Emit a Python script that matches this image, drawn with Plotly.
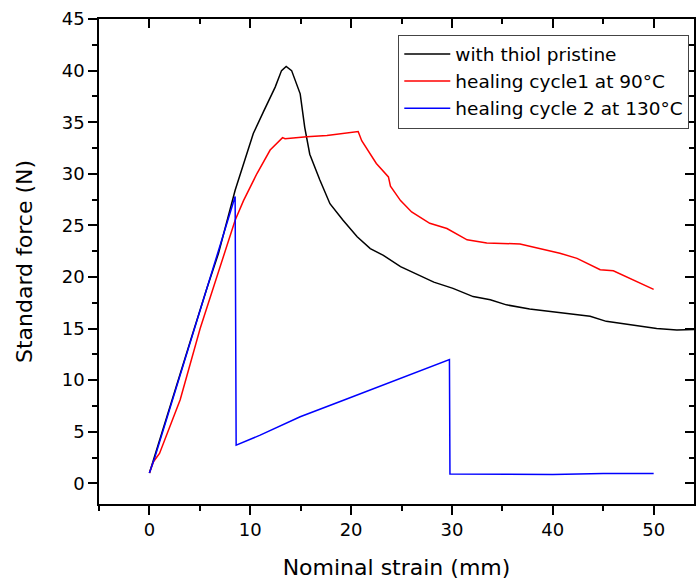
import plotly.graph_objects as go

# Tensile test curves: nominal strain (mm) vs standard force (N)
pristine_x = [0, 0.5, 2, 4, 5.7, 6.85, 8.5, 9.66, 10.3, 11.3, 12.47, 13.1, 13.56, 14.1,
              14.95, 15.4, 15.9, 16.9, 17.9, 19.2, 20.6, 21.9, 23.2, 24.9, 26.5, 28.2,
              30.1, 32.1, 33.8, 35.4, 37.7, 40.4, 43.7, 45.3, 48.3, 50.3, 52.3, 54.0]
pristine_y = [1.0, 2.6, 7.3, 13.6, 18.9, 22.3, 28.4, 31.9, 33.9, 36.0, 38.4, 40.0, 40.4, 40.0,
              37.75, 34.5, 31.9, 29.4, 27.1, 25.5, 23.9, 22.75, 22.1, 21.0, 20.3, 19.5,
              18.9, 18.1, 17.8, 17.3, 16.9, 16.6, 16.2, 15.7, 15.3, 15.0, 14.85, 14.9]

cycle1_x = [0, 0.4, 1.0, 3.05, 5.03, 6.2, 8.5, 9.33, 10.65, 11.97, 12.6, 13.2, 13.45, 15.6,
            17.6, 19.9, 20.7, 21.05, 22.5, 23.7, 23.9, 24.9, 26.0, 27.8, 29.5, 31.5, 33.45,
            36.75, 39.05, 40.7, 42.4, 44.7, 46.0, 47.65, 50.0]
cycle1_y = [1.0, 2.1, 2.9, 8.1, 15.0, 18.6, 25.5, 27.4, 30.0, 32.3, 32.9, 33.5, 33.4, 33.6,
            33.7, 34.0, 34.1, 33.2, 31.0, 29.7, 28.8, 27.4, 26.3, 25.2, 24.7, 23.6, 23.3,
            23.2, 22.65, 22.3, 21.8, 20.7, 20.6, 19.85, 18.8]

cycle2_x = [0, 0.5, 8.5, 8.6, 10.98, 14.95, 19.24, 22.9, 26.5, 29.75, 29.8, 35, 40, 45, 50]
cycle2_y = [1.0, 2.4, 27.8, 3.7, 4.67, 6.45, 8.06, 9.42, 10.8, 12.0, 0.9, 0.85, 0.85, 0.95, 0.95]

series = [
    ("with thiol pristine", pristine_x, pristine_y, "#000000"),
    ("healing cycle1 at 90°C", cycle1_x, cycle1_y, "#ff0000"),
    ("healing cycle 2 at 130°C", cycle2_x, cycle2_y, "#0000ff"),
]

x_range = [-5, 54]
y_range = [-2, 45]
font_family = "DejaVu Sans"

fig = go.Figure()
for name, xs, ys, color in series:
    fig.add_trace(go.Scatter(x=xs, y=ys, mode="lines", name=name,
                             line=dict(color=color, width=1.5)))

# invisible trace to carry the mirrored top/right axes
fig.add_trace(go.Scatter(x=[None], y=[None], xaxis="x2", yaxis="y2",
                         showlegend=False, hoverinfo="skip"))

common = dict(showgrid=False, zeroline=False, showline=True, linecolor="black",
              linewidth=1.5, tickcolor="black", tickwidth=1.5)

fig.update_layout(
    width=696, height=580,
    margin=dict(l=99, r=2, t=19, b=76),
    paper_bgcolor="white", plot_bgcolor="white",
    font=dict(family=font_family, color="black"),
    xaxis=dict(range=x_range, tick0=0, dtick=10, ticks="outside", ticklen=9,
               tickfont=dict(size=18),
               minor=dict(dtick=5, tick0=0, ticks="outside", ticklen=5,
                          tickcolor="black", tickwidth=1.5),
               title=dict(text="Nominal strain (mm)", font=dict(size=22), standoff=23),
               **common),
    yaxis=dict(range=y_range, tick0=0, dtick=5, ticks="outside", ticklen=9,
               tickfont=dict(size=18),
               minor=dict(dtick=2.5, tick0=0, ticks="outside", ticklen=5,
                          tickcolor="black", tickwidth=1.5),
               title=dict(text="Standard force (N)", font=dict(size=22), standoff=23),
               **common),
    xaxis2=dict(range=x_range, overlaying="x", side="top", anchor="y",
                tick0=0, dtick=10, ticks="inside", ticklen=9, showticklabels=False,
                minor=dict(dtick=5, tick0=0, ticks="inside", ticklen=5,
                           tickcolor="black", tickwidth=1.5),
                **common),
    yaxis2=dict(range=y_range, overlaying="y", side="right", anchor="x",
                tick0=0, dtick=5, ticks="inside", ticklen=9, showticklabels=False,
                minor=dict(dtick=2.5, tick0=0, ticks="inside", ticklen=5,
                           tickcolor="black", tickwidth=1.5),
                **common),
    legend=dict(x=0.503, y=0.968, xanchor="left", yanchor="top",
                bgcolor="white", bordercolor="#444444", borderwidth=1,
                itemwidth=46,
                font=dict(size=18.5, family=font_family), tracegroupgap=0),
    showlegend=True,
)

fig.write_html("out.html")
